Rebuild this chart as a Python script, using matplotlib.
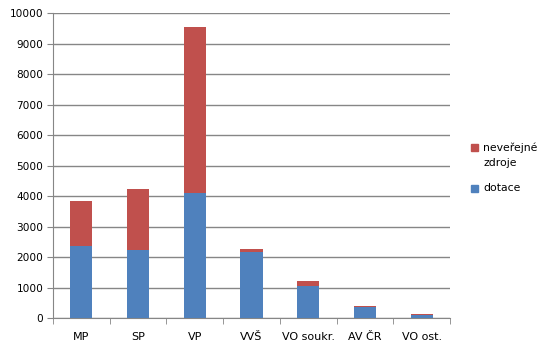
import numpy as np
import matplotlib.pyplot as plt
from matplotlib.patches import Rectangle

categories = ['MP', 'SP', 'VP', 'VVŠ', 'VO soukr.', 'AV ČR', 'VO ost.']
dotace = [2380, 2250, 4110, 2185, 1070, 370, 110]
neverejne = [1465, 1990, 5450, 90, 155, 45, 40]

blue = '#4F81BD'
red = '#C0504D'
grid = '#868686'

W, H = 546, 352
fig = plt.figure(figsize=(W / 100, H / 100), dpi=100)
ax = fig.add_axes([53 / W, 1 - 318.3 / H, 397 / W, 305 / H])

x = np.arange(len(categories))
bw = 0.39
ax.bar(x, dotace, bw, color=blue, zorder=3)
ax.bar(x, neverejne, bw, bottom=dotace, color=red, zorder=3)

ax.set_xlim(-0.5, len(categories) - 0.5)
ax.set_ylim(0, 10000)
ax.set_yticks(np.arange(0, 10001, 1000))
ax.yaxis.grid(True, color=grid, linewidth=1)
ax.set_axisbelow(True)

ax.set_xticks(x)
ax.set_xticklabels(categories)
ax.set_xticks(np.arange(-0.5, len(categories), 1), minor=True)
ax.tick_params(axis='x', which='major', length=0, pad=10, labelsize=8)
ax.tick_params(axis='x', which='minor', length=4, color=grid, direction='out')
ax.tick_params(axis='y', length=4, color=grid, pad=3, labelsize=7.6)

for s in ['top', 'right']:
    ax.spines[s].set_visible(False)
for s in ['left', 'bottom']:
    ax.spines[s].set_color(grid)

# legend, drawn by hand so the square sits on the first line like in Excel
def fy(py):
    return 1 - py / H

for col, lines, ys in [(red, ['neveřejné', 'zdroje'], [147.5, 163.5]),
                       (blue, ['dotace'], [188])]:
    fig.patches.append(Rectangle((471 / W, fy(ys[0] + 3.5)), 7 / W, 7 / H,
                                 transform=fig.transFigure, color=col))
    for t, yy in zip(lines, ys):
        fig.text(483.5 / W, fy(yy), t, fontsize=7.8, va='center', ha='left')

fig.savefig('out.png', dpi=100)
